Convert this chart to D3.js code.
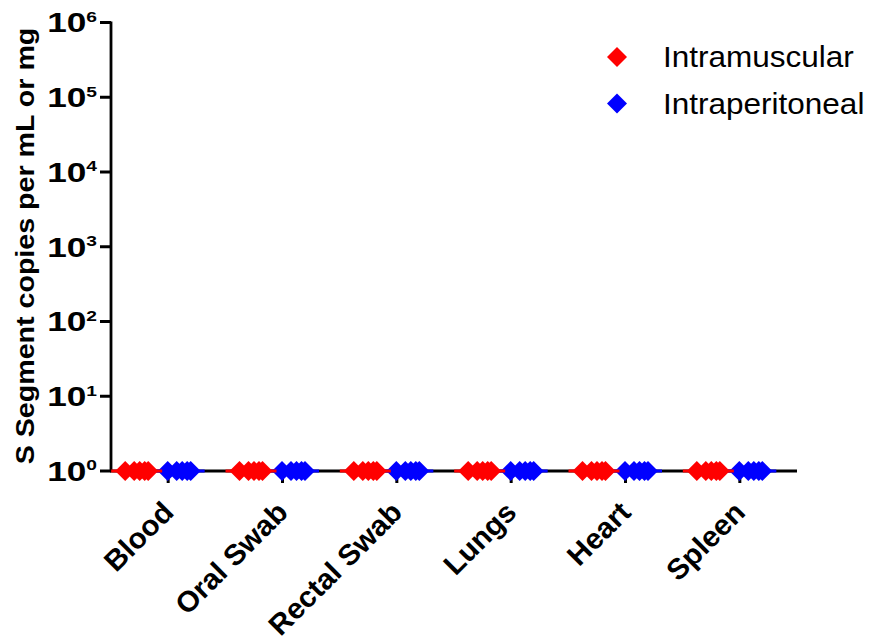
<!DOCTYPE html>
<html>
<head>
<meta charset="utf-8">
<script src="https://cdn.jsdelivr.net/npm/d3@7"></script>
<style>
  html, body { margin: 0; padding: 0; background: #fff; }
  svg { display: block; font-family: "Liberation Sans", Arial, Helvetica, sans-serif; }
</style>
</head>
<body>
<svg id="chart" width="876" height="641"></svg>
<script>
// Tissue / sample categories along the x axis
const categories = ["Blood", "Oral Swab", "Rectal Swab", "Lungs", "Heart", "Spleen"];

// S segment copies per animal (all at the detection floor of 10^0)
const intramuscular = [
  [1, 1, 1, 1, 1],
  [1, 1, 1, 1, 1],
  [1, 1, 1, 1, 1],
  [1, 1, 1, 1, 1],
  [1, 1, 1, 1, 1],
  [1, 1, 1, 1, 1]
];
const intraperitoneal = [
  [1, 1, 1, 1, 1],
  [1, 1, 1, 1, 1],
  [1, 1, 1, 1, 1],
  [1, 1, 1, 1, 1],
  [1, 1, 1, 1, 1],
  [1, 1, 1, 1, 1]
];

const seriesNames = ["Intramuscular", "Intraperitoneal"];
const seriesColors = ["#ff0000", "#0000ff"];
const yTickExponents = [0, 1, 2, 3, 4, 5, 6];
const yTitle = "S Segment copies per mL or mg";

// ---- layout ----
const svg = d3.select("#chart");
const plot = { left: 111, right: 797, top: 22.5, bottom: 471 };
const groupShift = [-31.5, 11];                 // dataset offsets from category centre
const pointSpread = [-11.5, -2.5, 3, 8, 11.5];  // horizontal scatter of equal values
const meanHalfWidth = 25.5;
const diamond = d3.symbol().type(d3.symbolSquare).size(200);

const x = d3.scaleBand().domain(categories).range([plot.left, plot.right]);
const y = d3.scaleLog().domain([1, 1e6]).range([plot.bottom, plot.top]);

// stretch a text element horizontally to a factor of its natural width
function stretch(sel, k) {
  sel.each(function () {
    const len = this.getComputedTextLength();
    d3.select(this).attr("textLength", len * k).attr("lengthAdjust", "spacingAndGlyphs");
  });
}

// ---- y axis ----
const yAxis = svg.append("g");
yAxis.append("line")
  .attr("x1", plot.left).attr("x2", plot.left)
  .attr("y1", y(1e6) - 1).attr("y2", plot.bottom + 1)
  .attr("stroke", "#000").attr("stroke-width", 2.8);
yAxis.selectAll("line.tick")
  .data(yTickExponents)
  .join("line")
  .attr("class", "tick")
  .attr("x1", plot.left - 11).attr("x2", plot.left)
  .attr("y1", d => y(Math.pow(10, d))).attr("y2", d => y(Math.pow(10, d)))
  .attr("stroke", "#000").attr("stroke-width", 3);

const tickLabels = yAxis.selectAll("g.tl")
  .data(yTickExponents)
  .join("g")
  .attr("class", "tl")
  .attr("transform", d => `translate(97,${y(Math.pow(10, d))}) scale(1.28,1)`);
const tlText = tickLabels.append("text")
  .attr("text-anchor", "end")
  .attr("y", 9.8)
  .attr("font-weight", "bold")
  .attr("fill", "#000");
tlText.append("tspan").attr("font-size", 27.5).text("10");
tlText.append("tspan").attr("dy", -10.5).attr("font-size", 15).text(d => d);

// y axis title
const yt = svg.append("text")
  .attr("transform", "translate(34,246) rotate(-90)")
  .attr("text-anchor", "middle")
  .attr("font-weight", "bold")
  .attr("font-size", 26)
  .attr("fill", "#000")
  .text(yTitle);
stretch(yt, 1.1);

// ---- x axis ----
const xAxis = svg.append("g");
xAxis.append("line")
  .attr("x1", plot.left - 1).attr("x2", plot.right)
  .attr("y1", plot.bottom).attr("y2", plot.bottom)
  .attr("stroke", "#000").attr("stroke-width", 3);
xAxis.selectAll("line.tick")
  .data(categories)
  .join("line")
  .attr("class", "tick")
  .attr("x1", d => x(d) + x.bandwidth() / 2).attr("x2", d => x(d) + x.bandwidth() / 2)
  .attr("y1", plot.bottom).attr("y2", plot.bottom + 12)
  .attr("stroke", "#000").attr("stroke-width", 3);

const catLabels = xAxis.selectAll("text.cat")
  .data(categories)
  .join("text")
  .attr("class", "cat")
  .attr("text-anchor", "end")
  .attr("font-weight", "bold")
  .attr("font-size", 29)
  .attr("fill", "#000")
  .attr("transform", d => `translate(${x(d) + x.bandwidth() / 2 + 7},514) rotate(-45)`)
  .text(d => d);
stretch(catLabels, 1.02);

// ---- data: scatter of diamonds with mean lines ----
const seriesData = [intramuscular, intraperitoneal];
// draw the second dataset first so the first one's mean bar sits on top
[1, 0].forEach(s => {
  const g = svg.append("g");
  const values = seriesData[s];
  const pts = [];
  const means = [];
  categories.forEach((c, i) => {
    const cx = x(c) + x.bandwidth() / 2 + groupShift[s];
    values[i].forEach((v, j) => pts.push({ x: cx + pointSpread[j], v }));
    means.push({ x: cx, v: d3.mean(values[i]) });
  });
  g.selectAll("path")
    .data(pts)
    .join("path")
    .attr("d", diamond)
    .attr("transform", d => `translate(${d.x},${y(d.v)}) rotate(45)`)
    .attr("fill", seriesColors[s]);
  g.selectAll("line")
    .data(means)
    .join("line")
    .attr("x1", d => d.x - meanHalfWidth).attr("x2", d => d.x + meanHalfWidth)
    .attr("y1", d => y(d.v)).attr("y2", d => y(d.v))
    .attr("stroke", seriesColors[s]).attr("stroke-width", 3);
});

// ---- legend ----
const legend = svg.append("g");
const legendRows = legend.selectAll("g")
  .data(seriesNames)
  .join("g")
  .attr("transform", (d, i) => `translate(617,${57 + i * 46.5})`);
legendRows.append("path")
  .attr("d", diamond)
  .attr("transform", "rotate(45)")
  .attr("fill", (d, i) => seriesColors[i]);
const legendText = legendRows.append("text")
  .attr("x", 46)
  .attr("y", 10)
  .attr("font-size", 30)
  .attr("fill", "#000")
  .text(d => d);
stretch(legendText, 1.05);
</script>
</body>
</html>
